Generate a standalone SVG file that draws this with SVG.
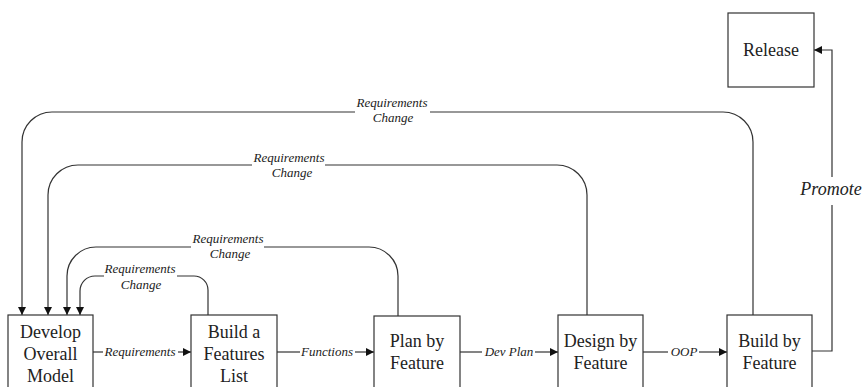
<svg xmlns="http://www.w3.org/2000/svg" width="862" height="387" viewBox="0 0 862 387">
<style>
.box{fill:#fff;stroke:#333;stroke-width:1.2}
.t{font-family:'Liberation Serif','Tinos','DejaVu Serif','Noto Serif',serif;font-size:18px;fill:#222;text-anchor:middle}
.l{font-family:'Liberation Serif','Tinos','DejaVu Serif','Noto Serif',serif;font-size:13px;font-style:italic;fill:#222;text-anchor:middle}
.c{fill:none;stroke:#333;stroke-width:1.2}
</style>
<defs>
<marker id="ah" markerWidth="8" markerHeight="8" refX="8" refY="4" orient="auto" markerUnits="userSpaceOnUse">
<path d="M0,0 L8,4 L0,8 Z" fill="#111"/>
</marker>
</defs>
<rect width="862" height="387" fill="#fff"/>
<g id="connectors">
<path class="c" d="M93,352 H103"/>
<path class="c" d="M178,352 H191" marker-end="url(#ah)"/>
<text class="l" x="140" y="356">Requirements</text>
<path class="c" d="M277,352 H300"/>
<path class="c" d="M355,352 H374" marker-end="url(#ah)"/>
<text class="l" x="327" y="356">Functions</text>
<path class="c" d="M460,352 H482"/>
<path class="c" d="M535,352 H558" marker-end="url(#ah)"/>
<text class="l" x="509" y="356">Dev Plan</text>
<path class="c" d="M643,352 H668"/>
<path class="c" d="M699,352 H727" marker-end="url(#ah)"/>
<text class="l" x="684" y="356">OOP</text>
<path class="c" d="M812,351 H832 V205"/>
<path class="c" d="M832,177 V50 H814" marker-end="url(#ah)"/>
<text class="t" x="831" y="195" font-style="italic">Promote</text>
<path class="c" d="M753,315 V142 A30,30 0 0 0 723,112 H430"/>
<path class="c" d="M355,112 H52 A30,30 0 0 0 22,142 V315" marker-end="url(#ah)"/>
<text class="l" x="392" y="107">Requirements</text>
<text class="l" x="393" y="122">Change</text>
<path class="c" d="M587,315 V195 A30,30 0 0 0 557,165 H325"/>
<path class="c" d="M252,165 H78 A30,30 0 0 0 48,195 V315" marker-end="url(#ah)"/>
<text class="l" x="289" y="162">Requirements</text>
<text class="l" x="292" y="177">Change</text>
<path class="c" d="M398,316 V276 A29,29 0 0 0 369,247 H264"/>
<path class="c" d="M191,247 H96 A29,29 0 0 0 67,276 V315" marker-end="url(#ah)"/>
<text class="l" x="228" y="243">Requirements</text>
<text class="l" x="230" y="258">Change</text>
<path class="c" d="M208,315 V290 A14,14 0 0 0 194,276 H177"/>
<path class="c" d="M104,276 H95 A15,15 0 0 0 80,291 V315" marker-end="url(#ah)"/>
<text class="l" x="140" y="273">Requirements</text>
<text class="l" x="141" y="289">Change</text>
</g>
<g id="develop">
<rect class="box" x="8" y="315" width="85" height="80"/>
<text class="t" x="50.5" y="338">Develop</text>
<text class="t" x="50.5" y="360">Overall</text>
<text class="t" x="50.5" y="382">Model</text>
</g>
<g id="features">
<rect class="box" x="191" y="315" width="86" height="80"/>
<text class="t" x="234" y="338">Build a</text>
<text class="t" x="234" y="360">Features</text>
<text class="t" x="234" y="382">List</text>
</g>
<g id="plan">
<rect class="box" x="374" y="316" width="86" height="80"/>
<text class="t" x="417" y="347">Plan by</text>
<text class="t" x="417" y="369">Feature</text>
</g>
<g id="design">
<rect class="box" x="558" y="315" width="85" height="80"/>
<text class="t" x="600.5" y="347">Design by</text>
<text class="t" x="600.5" y="369">Feature</text>
</g>
<g id="build">
<rect class="box" x="727" y="315" width="85" height="80"/>
<text class="t" x="769.5" y="347">Build by</text>
<text class="t" x="769.5" y="369">Feature</text>
</g>
<g id="release">
<rect class="box" x="728" y="13" width="86" height="74"/>
<text class="t" x="771" y="56">Release</text>
</g>
</svg>
